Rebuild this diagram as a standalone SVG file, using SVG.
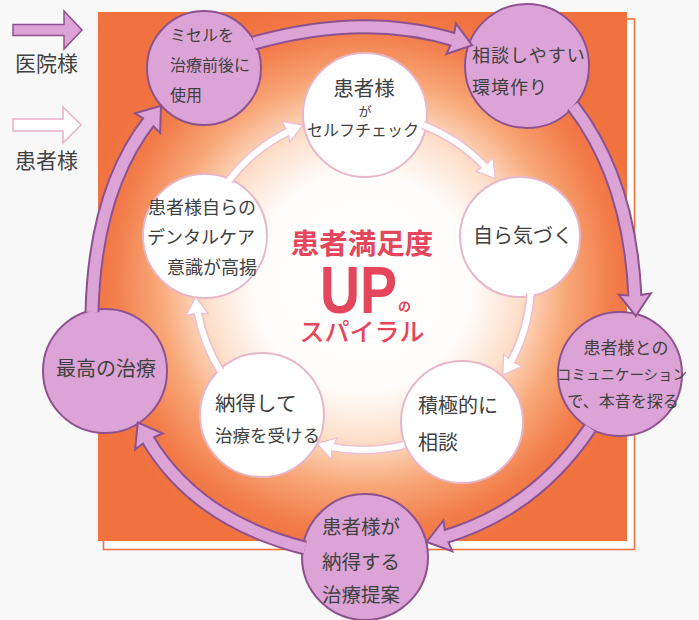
<svg xmlns="http://www.w3.org/2000/svg" width="699" height="620" viewBox="0 0 699 620">
<defs>
<radialGradient id="glow" gradientUnits="userSpaceOnUse" cx="363" cy="282" r="285">
<stop offset="0" stop-color="#ffffff"/>
<stop offset="0.38" stop-color="#fffdfb"/>
<stop offset="0.55" stop-color="#fde0cc"/>
<stop offset="0.72" stop-color="#f8a676"/>
<stop offset="0.88" stop-color="#f27c4a"/>
<stop offset="1" stop-color="#f0723f"/>
</radialGradient>
<style>
.t{font-family:"Noto Sans CJK JP","Noto Sans",sans-serif;fill:#404040;}
.r{font-family:"Noto Sans CJK JP","Noto Sans",sans-serif;fill:#e6465b;}
.on{fill:#dca4d6;stroke:#8e5190;stroke-width:2;}
.in{fill:#ffffff;stroke:#e8b6cb;stroke-width:2;}
.ob{fill:none;stroke:#8e5190;stroke-width:15;}
.of{fill:none;stroke:#dca4d6;stroke-width:11;}
.oh{fill:#dca4d6;stroke:#8e5190;stroke-width:2;stroke-linejoin:miter;}
.ib{fill:none;stroke:#ecbfd1;stroke-width:9;}
.if{fill:none;stroke:#ffffff;stroke-width:6;}
.ih{fill:#ffffff;stroke:#ecbfd1;stroke-width:1.3;}
</style>
</defs>
<rect width="699" height="620" fill="#f8f8f8"/>
<g id="background">
<rect x="103.5" y="19" width="531" height="530.5" fill="#ffffff" stroke="#f0723f" stroke-width="1.6"/>
<rect x="98" y="12" width="529" height="529" fill="url(#glow)"/>
</g>
<g id="legend">
<path d="M13,24.5 H64 V11 L82,30 L64,49 V35.5 H13 Z" fill="#dca4d6" stroke="#8e5190" stroke-width="1.5"/>
<text class="t" x="15" y="71" font-size="21">医院様</text>
<path d="M13,119 H63 V107 L81,125 L63,143 V131 H13 Z" fill="#ffffff" stroke="#e8b0c8" stroke-width="1.5"/>
<text class="t" x="15" y="168" font-size="21">患者様</text>
</g>
<g id="title">
<text class="r" x="362" y="254" font-size="28.5" font-weight="700" text-anchor="middle">患者満足度</text>
<text x="320" y="313" font-family="'Liberation Sans',Arial,sans-serif" font-weight="700" font-size="67" fill="#e6465b" textLength="77" lengthAdjust="spacingAndGlyphs">UP</text>
<text class="r" x="398" y="311" font-size="13" font-weight="700">の</text>
<text class="r" x="362" y="341" font-size="25" font-weight="500" text-anchor="middle">スパイラル</text>
</g>
<g id="node-misel">
<circle class="on" cx="204" cy="68" r="57"/>
<text class="t" font-size="16"><tspan x="170" y="41">ミセルを</tspan><tspan x="170" y="71">治療前後に</tspan><tspan x="170" y="101">使用</tspan></text>
</g>
<g id="node-kankyo">
<circle class="on" cx="527" cy="66" r="62"/>
<text class="t" font-size="18" letter-spacing="1"><tspan x="472" y="62">相談しやすい</tspan><tspan x="472" y="94">環境作り</tspan></text>
</g>
<g id="node-communication">
<circle class="on" cx="620" cy="374" r="62"/>
<text class="t" text-anchor="middle"><tspan x="626" y="354" font-size="17">患者様との</tspan><tspan x="622" y="380" font-size="14.5">コミュニケーション</tspan><tspan x="623" y="407" font-size="16">で、本音を探る</tspan></text>
</g>
<g id="node-teian">
<circle class="on" cx="365" cy="557" r="63"/>
<text class="t" font-size="19.5" text-anchor="middle"><tspan x="361" y="534">患者様が</tspan><tspan x="361" y="569">納得する</tspan><tspan x="361" y="602">治療提案</tspan></text>
</g>
<g id="node-saiko">
<circle class="on" cx="105" cy="371" r="62"/>
<text class="t" x="106" y="376" font-size="20" text-anchor="middle">最高の治療</text>
</g>
<g id="node-selfcheck">
<circle class="in" cx="365" cy="115" r="62"/>
<text class="t" text-anchor="middle"><tspan x="364" y="96" font-size="20.5">患者様</tspan><tspan x="365" y="116" font-size="13">が</tspan><tspan x="363" y="136" font-size="16">セルフチェック</tspan></text>
</g>
<g id="node-kizuku">
<circle class="in" cx="520" cy="237" r="60"/>
<text class="t" x="523" y="243" font-size="20" text-anchor="middle">自ら気づく</text>
</g>
<g id="node-sodan">
<circle class="in" cx="462" cy="422" r="61"/>
<text class="t" font-size="20"><tspan x="418" y="413">積極的に</tspan><tspan x="418" y="450">相談</tspan></text>
</g>
<g id="node-nattoku">
<circle class="in" cx="262" cy="415" r="62"/>
<text class="t"><tspan x="215" y="411" font-size="20.5">納得して</tspan><tspan x="215" y="442" font-size="17.5">治療を受ける</tspan></text>
</g>
<g id="node-ishiki">
<circle class="in" cx="205" cy="236" r="62"/>
<text class="t" font-size="18"><tspan x="148" y="214">患者様自らの</tspan><tspan x="147" y="244">デンタルケア</tspan><tspan x="167" y="274">意識が高揚</tspan></text>
</g>
<g id="connectors">
<g id="outer-ring">
<path class="ob" d="M254,43 Q365,12 455,40"/>
<polygon class="oh" points="0,0 -22,-16 -20,0 -22,16" transform="translate(472.2,45.3) rotate(17.3)"/>
<path class="of" d="M254,43 Q365,12 455,40"/>
<path class="ob" d="M573,106 Q630,180 635,298"/>
<polygon class="oh" points="0,0 -22,-16 -20,0 -22,16" transform="translate(635.8,316) rotate(87.5)"/>
<path class="of" d="M573,106 Q630,180 635,298"/>
<path class="ob" d="M590,428 Q535,510 444,537"/>
<polygon class="oh" points="0,0 -22,-16 -20,0 -22,16" transform="translate(426.7,542) rotate(163.7)"/>
<path class="of" d="M590,428 Q535,510 444,537"/>
<path class="ob" d="M305,548 Q195,520 147,438"/>
<polygon class="oh" points="0,0 -22,-16 -20,0 -22,16" transform="translate(137.8,422.5) rotate(-120.4)"/>
<path class="of" d="M305,548 Q195,520 147,438"/>
<path class="ob" d="M92,312 Q95,190 150,120"/>
<polygon class="oh" points="0,0 -22,-16 -20,0 -22,16" transform="translate(161,105.8) rotate(-52.1)"/>
<path class="of" d="M92,312 Q95,190 150,120"/>
</g>
<g id="inner-ring">
<path class="ib" d="M228.8,180.9 A168,168 0 0 1 288,131.7"/>
<polygon class="ih" points="0,0 -18,-11 -16.5,0 -18,11" transform="translate(302.8,125.2) rotate(-21)"/>
<path class="if" d="M228.8,180.9 A168,168 0 0 1 288,131.7"/>
<path class="ib" d="M423.2,125.2 A168,168 0 0 1 484.9,166.4"/>
<polygon class="ih" points="0,0 -18,-11 -16.5,0 -18,11" transform="translate(495.4,178.6) rotate(52)"/>
<path class="if" d="M423.2,125.2 A168,168 0 0 1 484.9,166.4"/>
<path class="ib" d="M530.6,293.7 A168,168 0 0 1 511.1,361.4"/>
<polygon class="ih" points="0,0 -18,-11 -16.5,0 -18,11" transform="translate(502.8,375.2) rotate(123.7)"/>
<path class="if" d="M530.6,293.7 A168,168 0 0 1 511.1,361.4"/>
<path class="ib" d="M404.5,444.8 A168,168 0 0 1 332.4,447.2"/>
<polygon class="ih" points="0,0 -18,-11 -16.5,0 -18,11" transform="translate(316.7,443.5) rotate(196)"/>
<path class="if" d="M404.5,444.8 A168,168 0 0 1 332.4,447.2"/>
<path class="ib" d="M220.5,371 A168,168 0 0 1 197.8,312.6"/>
<polygon class="ih" points="0,0 -18,-11 -16.5,0 -18,11" transform="translate(195.6,296.6) rotate(265)"/>
<path class="if" d="M220.5,371 A168,168 0 0 1 197.8,312.6"/>
</g>
</g>
</svg>
